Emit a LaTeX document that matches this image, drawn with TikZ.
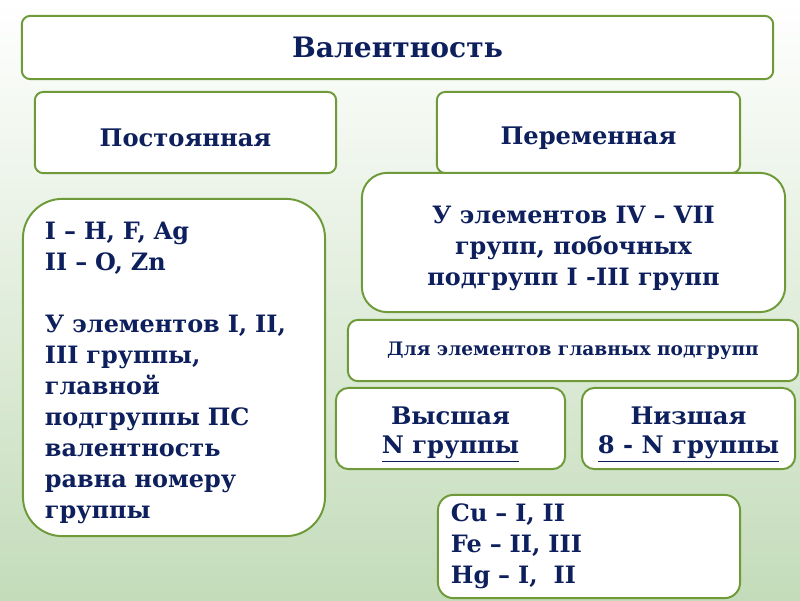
\documentclass[tikz,border=0pt]{standalone}
\usepackage{fontspec}
\setmainfont{DejaVu Serif}
\usepackage{xcolor}
\usetikzlibrary{positioning}

\definecolor{ink}{RGB}{13,31,92}
\definecolor{edge}{RGB}{110,154,58}
\definecolor{bggreen}{RGB}{196,220,186}

% a taller first line pushes the text a little down in its box
\newcommand{\lowr}{\rule{0pt}{1.2em}}

\begin{document}
\begin{tikzpicture}[
    x=0.025cm, y=-0.025cm,
    box/.style={rectangle, draw=edge, line width=1.4pt, rounded corners=#1, fill=white, text=ink, inner sep=0pt},
    box/.default=6pt,
    big/.style={font=\fontsize{17.2}{21}\selectfont\bfseries},
    body/.style={font=\fontsize{17}{22}\selectfont\bfseries}
]
    % background
    \useasboundingbox (0,0) rectangle (800,600);
    \shade[top color=white, middle color=bggreen!45!white, bottom color=bggreen] (0,0) rectangle (800,600);

    % Top
    \node[box, minimum width=18.78cm, minimum height=1.58cm, font=\fontsize{20}{24}\selectfont\bfseries] (val) at (397.5,47.5) {Валентность};

    % Two kinds
    \node[box, big, minimum width=7.53cm, minimum height=2.03cm] (const) at (185.5,132.5) {\lowr Постоянная};
    \node[box, big, minimum width=7.58cm, minimum height=2.03cm] (var) at (588.5,132.5) {\lowr Переменная};

    % Constant valence
    \node[box=28pt, body, minimum width=7.55cm, minimum height=8.43cm, text width=6.45cm, align=left] (constinfo) at (174,367.5)
        {\lowr I – H, F, Ag\\II – O, Zn\\[22pt]У элементов I, II,\\III группы,\\главной\\подгруппы ПС\\валентность\\равна номеру\\группы};

    % Variable valence
    \node[box=18pt, body, minimum width=10.58cm, minimum height=3.48cm, align=center] (varinfo) at (573.5,242.5)
        {\lowr У элементов IV – VII\\групп, побочных\\подгрупп I -III групп};
    \node[box=7pt, minimum width=11.25cm, minimum height=1.53cm, font=\fontsize{13.2}{15}\selectfont\bfseries] (main) at (573,350.5)
        {Для элементов главных подгрупп};
    \node[box=9pt, big, minimum width=5.73cm, minimum height=2.03cm, align=center] (high) at (450.5,428.5)
        {\lowr Высшая\\\underline{N группы}};
    \node[box=9pt, big, minimum width=5.33cm, minimum height=2.03cm, align=center] (low) at (688.5,428.5)
        {\lowr Низшая\\\underline{8 - N группы}};

    % Examples
    \node[box=11pt, body, minimum width=7.55cm, minimum height=2.58cm, text width=6.9cm, align=left] (ex) at (589,546.5)
        {Cu – I, II\\Fe – II, III\\Hg – I,\ \ II};
\end{tikzpicture}
\end{document}
